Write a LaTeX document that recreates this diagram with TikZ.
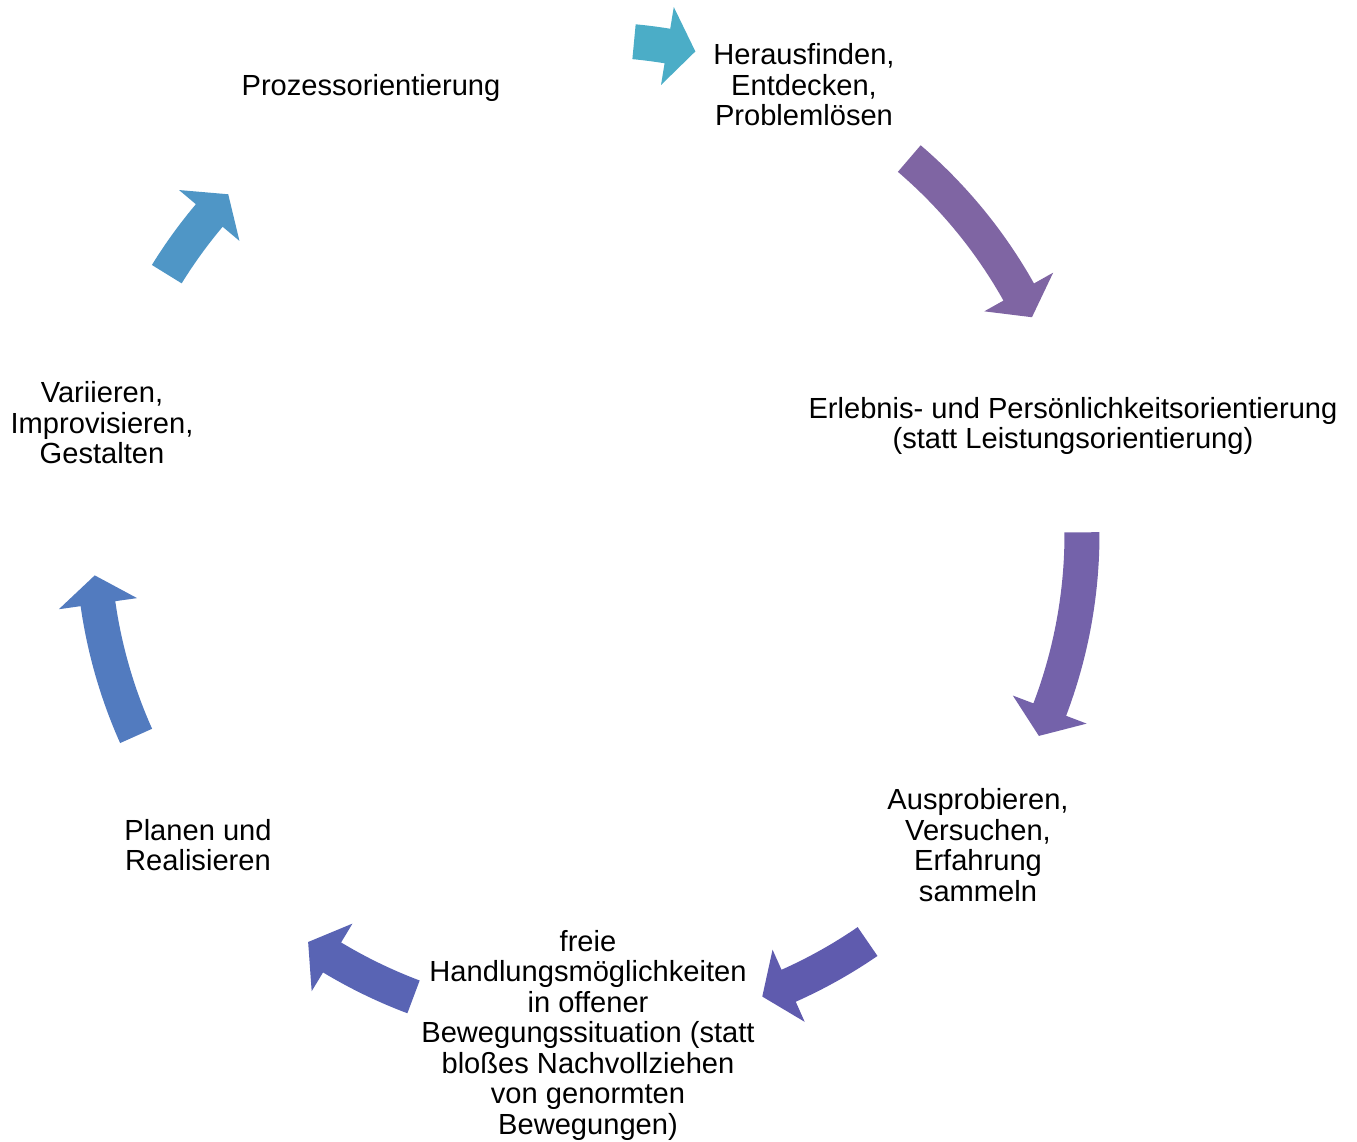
\documentclass[tikz,border=0pt]{standalone}
\usepackage{fontspec}
\setmainfont{Liberation Sans}
\definecolor{cA}{HTML}{4BADC7}
\definecolor{cB}{HTML}{7F65A3}
\definecolor{cC}{HTML}{7462AA}
\definecolor{cD}{HTML}{5F5BAE}
\definecolor{cE}{HTML}{5964B4}
\definecolor{cF}{HTML}{527BBF}
\definecolor{cG}{HTML}{4F96C6}
\newcommand\cycarrow[3]{%
  \pgfmathsetmacro\cyA{90-#1}%
  \pgfmathsetmacro\cyB{90-#2}%
  \pgfmathsetmacro\cyC{\cyB+3.3}%
  \fill[#3] (\cyA:512) arc[start angle=\cyA,end angle=\cyC,radius=512]
    -- (\cyC:534) -- (\cyB:494.5) -- (\cyC:455) -- (\cyC:477)
    arc[start angle=\cyC,end angle=\cyA,radius=477] -- cycle;}
\begin{document}
\begin{tikzpicture}[x=1pt,y=1pt,
  lbl/.style={align=center,inner sep=0pt,font=\fontsize{29.1}{30.5}\selectfont}]
\useasboundingbox (-587.5,-607) rectangle (769.5,534);
\node[lbl] (n1) at (-216.5,446) {Prozessorientierung};
\node[lbl] (n2) at (216.5,449) {Herausfinden,\\Entdecken,\\Problemlösen};
\node[lbl] (n3) at (485.5,108) {Erlebnis- und Persönlichkeitsorientierung\\(statt Leistungsorientierung)};
\node[lbl] (n4) at (390.5,-311) {Ausprobieren,\\Versuchen,\\Erfahrung\\sammeln};
\node[lbl] (n5) at (0.5,-501) {freie\\Handlungsmöglichkeiten\\in offener\\Bewegungssituation (statt\\bloßes Nachvollziehen\\von genormten\\Bewegungen)};
\node[lbl] (n6) at (-389.5,-311) {Planen und\\Realisieren};
\node[lbl] (n7) at (-485.5,111) {Variieren,\\Improvisieren,\\Gestalten};
\cycarrow{5.4}{12.6}{cA}
\cycarrow{40.6}{64.0}{cB}
\cycarrow{89.8}{114.1}{cC}
\cycarrow{145.5}{159.3}{cD}
\cycarrow{200.6}{214.4}{cE}
\cycarrow{245.9}{265.2}{cF}
\cycarrow{301.7}{313.4}{cG}
\end{tikzpicture}
\end{document}
